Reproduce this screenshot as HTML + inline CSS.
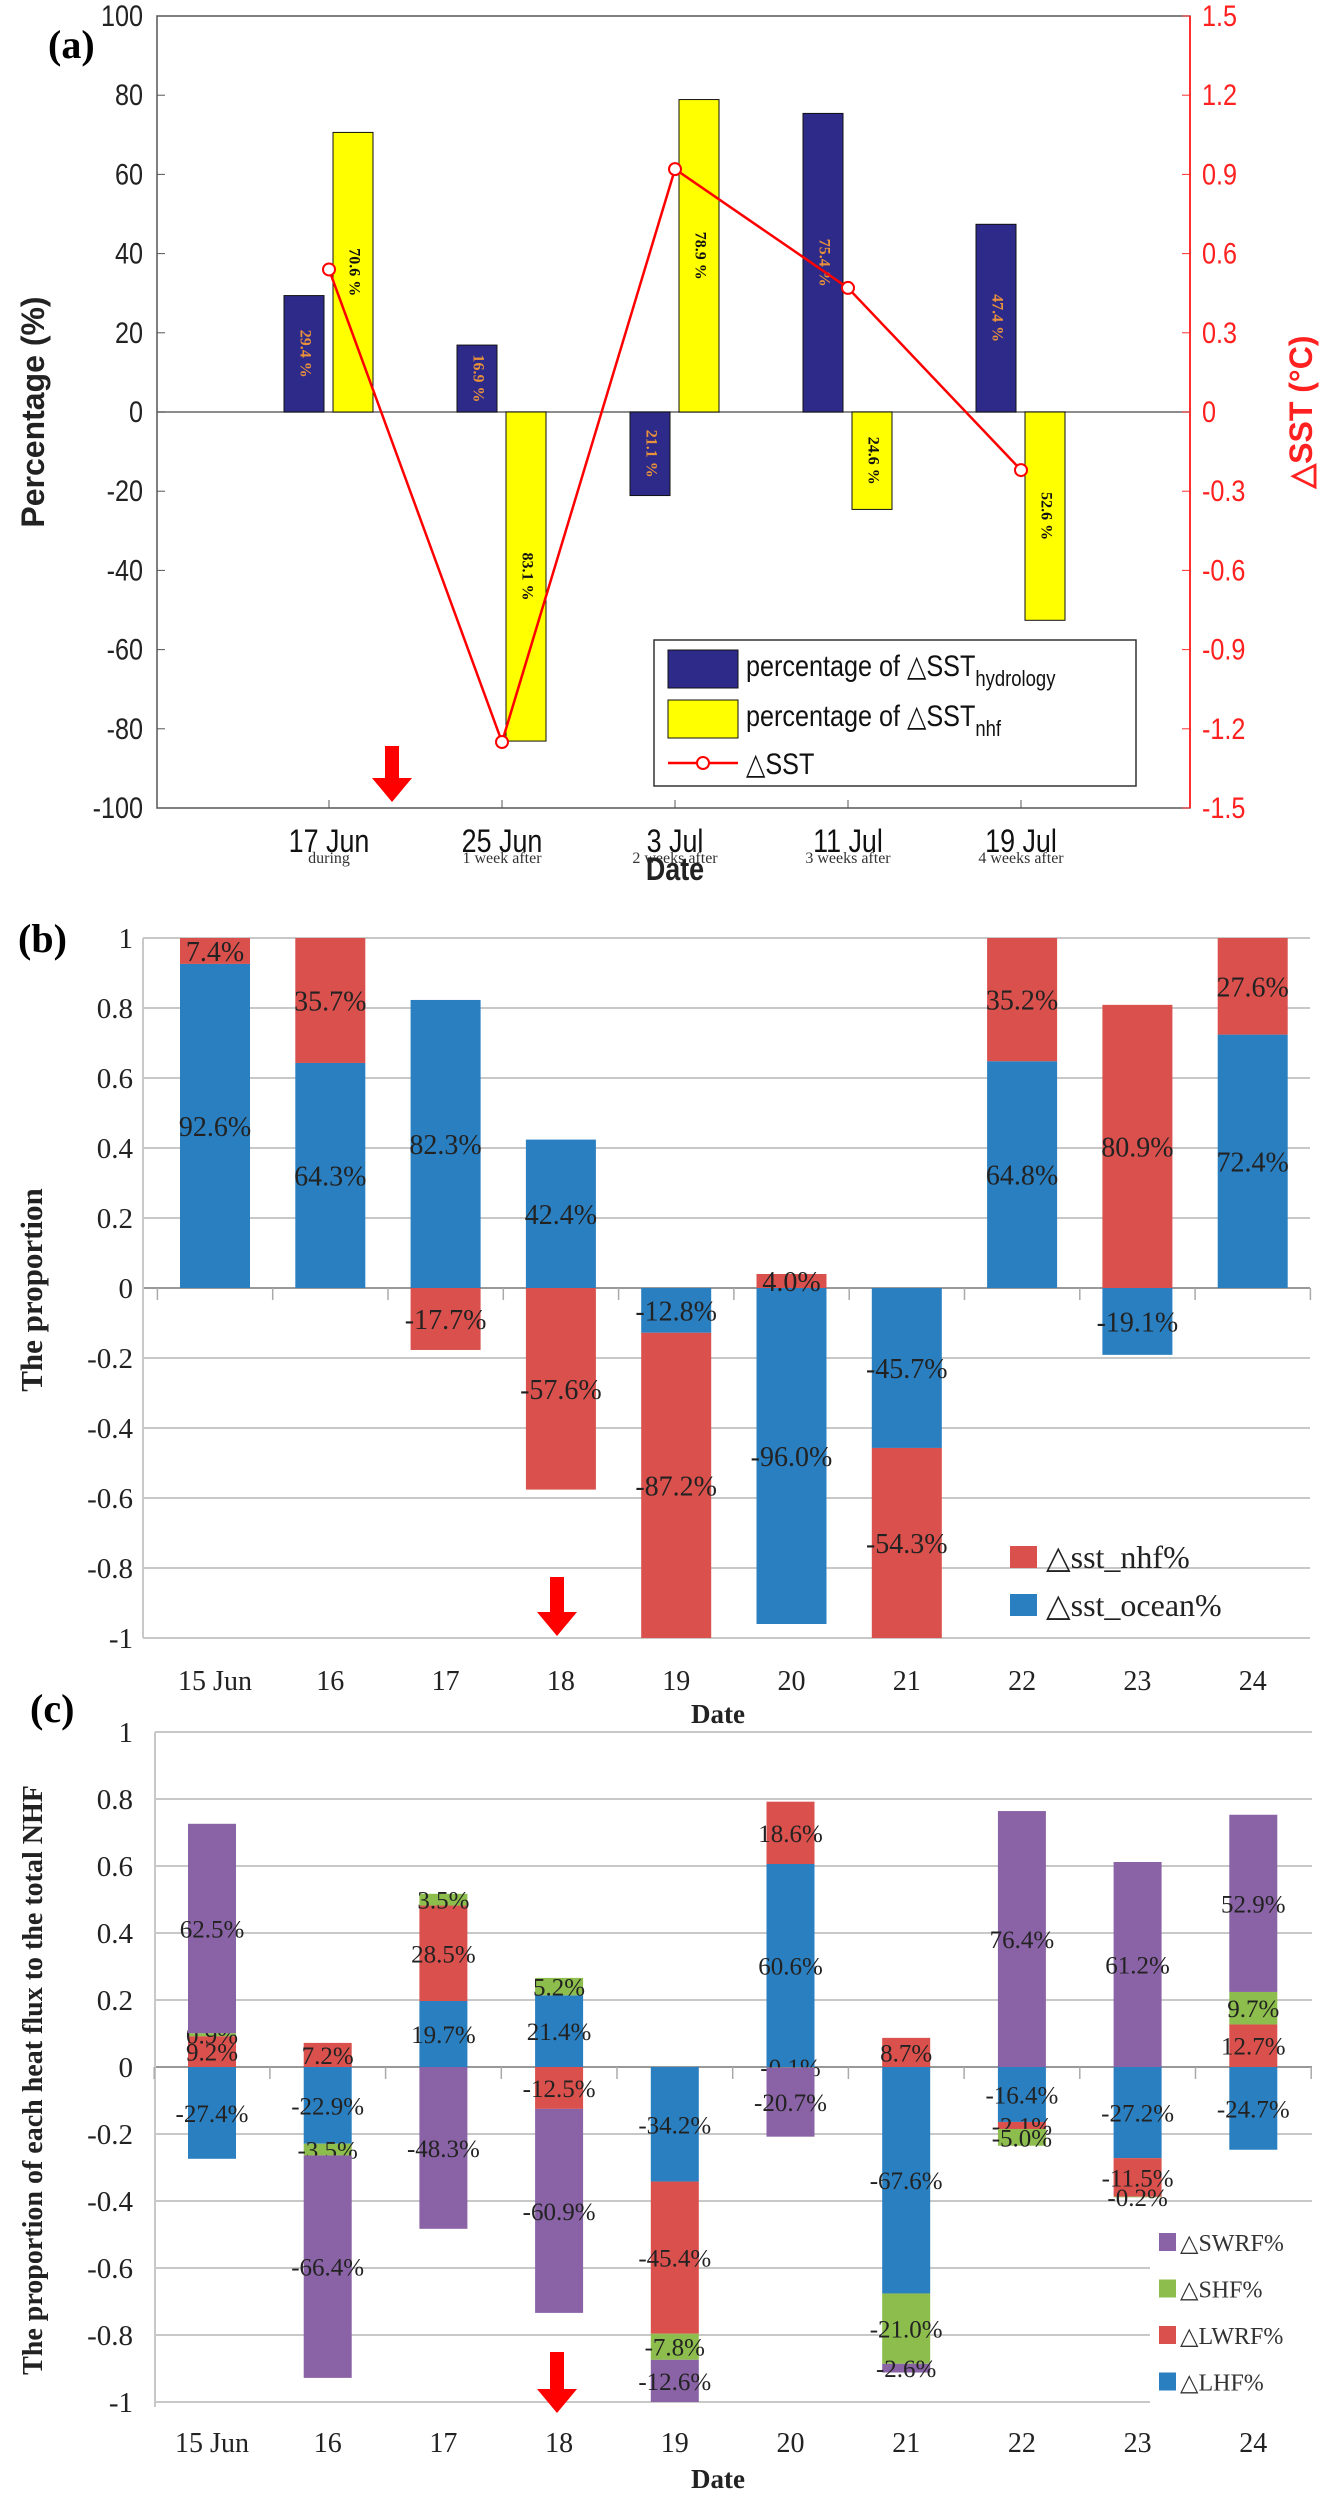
<!DOCTYPE html>
<html><head><meta charset="utf-8"><style>
html,body{margin:0;padding:0;background:#fff}
svg{display:block}
.na{font-family:"Liberation Sans Narrow","Liberation Sans",sans-serif}
.se{font-family:"Liberation Serif",serif}
</style></head><body>
<svg id="fig" width="1331" height="2512" viewBox="0 0 1331 2512" xmlns="http://www.w3.org/2000/svg">
<g id="pa"></g>
<g id="pb"></g>
<g id="pc"></g>
</svg>
<script>
// ---------- Panel (a) data ----------
const catsA = ["17 Jun","25 Jun","3 Jul","11 Jul","19 Jul"];
const subA = ["during","1 week after","2 weeks after","3 weeks after","4 weeks after"];
const hydro = [29.4,16.9,-21.1,75.4,47.4];
const nhf = [70.6,-83.1,78.9,-24.6,-52.6];
const sst = [0.54,-1.25,0.92,0.47,-0.22];
const ticksA = [100,80,60,40,20,0,-20,-40,-60,-80,-100];
const ticksSST = [1.5,1.2,0.9,0.6,0.3,0,-0.3,-0.6,-0.9,-1.2,-1.5];
// ---------- Panel (b) data ----------
const catsB = ["15 Jun","16","17","18","19","20","21","22","23","24"];
const ocean = [0.926,0.643,0.823,0.424,-0.128,-0.960,-0.457,0.648,-0.191,0.724];
const nhfB = [0.074,0.357,-0.177,-0.576,-0.872,0.040,-0.543,0.352,0.809,0.276];
const ticksB = [1,0.8,0.6,0.4,0.2,0,-0.2,-0.4,-0.6,-0.8,-1];
// ---------- Panel (c) data ----------
const lhf = [-0.274,-0.229,0.197,0.214,-0.342,0.606,-0.676,-0.164,-0.272,-0.247];
const lwrf = [0.092,0.072,0.285,-0.125,-0.454,0.186,0.087,-0.021,-0.115,0.127];
const shf = [0.009,-0.035,0.035,0.052,-0.078,-0.001,-0.210,-0.050,-0.002,0.097];
const swrf = [0.625,-0.664,-0.483,-0.609,-0.126,-0.207,-0.026,0.764,0.612,0.529];
const labLhf = ["-27.4%","-22.9%","19.7%","21.4%","-34.2%","60.6%","-67.6%","-16.4%","-27.2%","-24.7%"];
const labLwrf = ["9.2%","7.2%","28.5%","-12.5%","-45.4%","18.6%","8.7%","-2.1%","-11.5%","12.7%"];
const labShf = ["0.9%","-3.5%","3.5%","5.2%","-7.8%","-0.1%","-21.0%","-5.0%","-0.2%","9.7%"];
const labSwrf = ["62.5%","-66.4%","-48.3%","-60.9%","-12.6%","-20.7%","-2.6%","76.4%","61.2%","52.9%"];

const NS="http://www.w3.org/2000/svg";
function mk(parent,tag,attrs,txt){const e=document.createElementNS(NS,tag);for(const k in attrs)e.setAttribute(k,attrs[k]);if(txt!==undefined)e.textContent=txt;
 if(tag==='text'&&attrs['class']==='na'&&!attrs.transform){const x=+attrs.x;e.setAttribute('transform',`translate(${x},0) scale(0.84,1) translate(${-x},0)`);}
 parent.appendChild(e);return e;}
function arrow(g,x,y0,y1,name){const e=mk(g,'path',{d:`M${x-7},${y0} L${x+7},${y0} L${x+7},${y1-24} L${x+20},${y1-24} L${x},${y1} L${x-20},${y1-24} L${x-7},${y1-24} Z`,fill:'#ff0000'});

}

// ================= Panel A =================
(function(){
const g=document.getElementById('pa');
const L=157,R=1190,T=16,B=808;
const yA=v=>412-v*3.96, yS=v=>412-v*264, xA=i=>329+i*173;
mk(g,'rect',{x:L,y:T,width:R-L,height:B-T,fill:'none',stroke:'#555','stroke-width':1.5});
mk(g,'line',{x1:R,y1:T,x2:R,y2:B,stroke:'#ff3030','stroke-width':2});
mk(g,'line',{x1:L,y1:yA(0),x2:R,y2:yA(0),stroke:'#666','stroke-width':1.5});
ticksA.forEach(t=>{mk(g,'line',{x1:L,y1:yA(t),x2:L+8,y2:yA(t),stroke:'#555'});
 const e=mk(g,'text',{x:L-14,y:yA(t)+10,'text-anchor':'end','font-size':30,fill:'#222',class:'na'},String(t));
 });
ticksSST.forEach(t=>{mk(g,'line',{x1:R,y1:yS(t),x2:R-8,y2:yS(t),stroke:'#ff3030'});
 const e=mk(g,'text',{x:R+12,y:yS(t)+10,'font-size':30,fill:'#ff2020',class:'na'},t===0?'0':t.toFixed(1));
 });
catsA.forEach((c,i)=>{const x=xA(i);
 mk(g,'line',{x1:x,y1:B,x2:x,y2:B-8,stroke:'#555'});
 let e=mk(g,'text',{x:x,y:852,'text-anchor':'middle','font-size':32,fill:'#111',class:'na'},c);
 
 e=mk(g,'text',{x:x,y:863,'text-anchor':'middle','font-size':16,fill:'#333',class:'se'},subA[i]);
 
 const hv=hydro[i], nv=nhf[i];
 const b1=mk(g,'rect',{x:x-45,y:Math.min(yA(hv),yA(0)),width:40,height:Math.abs(yA(hv)-yA(0)),fill:'#2e2a8a',stroke:'#111','stroke-width':1});
 
 const b2=mk(g,'rect',{x:x+4,y:Math.min(yA(nv),yA(0)),width:40,height:Math.abs(yA(nv)-yA(0)),fill:'#ffff00',stroke:'#111','stroke-width':1});
 
 const m1=yA(hv/2), m2=yA(nv/2);
 e=mk(g,'text',{x:0,y:0,transform:`translate(${x-25},${m1}) rotate(90)`,'text-anchor':'middle','font-size':16,'font-weight':'bold',fill:'#e8913a',class:'se','dominant-baseline':'middle'},Math.abs(hv).toFixed(1)+' %');
 
 e=mk(g,'text',{x:0,y:0,transform:`translate(${x+24},${m2}) rotate(90)`,'text-anchor':'middle','font-size':16,'font-weight':'bold',fill:'#111',class:'se','dominant-baseline':'middle'},Math.abs(nv).toFixed(1)+' %');
 
});
const pts=sst.map((v,i)=>xA(i)+','+yS(v)).join(' ');
const pl=mk(g,'polyline',{points:pts,fill:'none',stroke:'#ff0000','stroke-width':2.5});

sst.forEach((v,i)=>{const c=mk(g,'circle',{cx:xA(i),cy:yS(v),r:6,fill:'#fff',stroke:'#ff0000','stroke-width':2});
 });
arrow(g,392,746,802,'event-arrow-a');
let e=mk(g,'text',{x:48,y:58,'font-size':40,'font-weight':'bold',class:'se',fill:'#000'},'(a)');

e=mk(g,'text',{x:0,y:0,transform:'translate(44,412) rotate(-90)','text-anchor':'middle','font-size':32,'font-weight':'bold',class:'na',fill:'#222'},'Percentage (%)');

e=mk(g,'text',{x:0,y:0,transform:'translate(1312,412) rotate(-90)','text-anchor':'middle','font-size':32,'font-weight':'bold',class:'na',fill:'#ff2020'},'△SST (°C)');

e=mk(g,'text',{x:675,y:880,'text-anchor':'middle','font-size':32,'font-weight':'bold',class:'na',fill:'#222'},'Date');

const lg=mk(g,'g',{});
mk(lg,'rect',{x:654,y:640,width:482,height:146,fill:'#fff',stroke:'#333','stroke-width':1.5});
mk(lg,'rect',{x:668,y:650,width:70,height:38,fill:'#2e2a8a',stroke:'#111'});
mk(lg,'rect',{x:668,y:700,width:70,height:38,fill:'#ffff00',stroke:'#111'});
mk(lg,'line',{x1:668,y1:763,x2:738,y2:763,stroke:'#ff0000','stroke-width':2.5});
mk(lg,'circle',{cx:703,cy:763,r:6,fill:'#fff',stroke:'#ff0000','stroke-width':2});
let t=mk(lg,'text',{x:746,y:676,'font-size':30,class:'na',fill:'#111'});
t.innerHTML='percentage of △SST<tspan dy="10" font-size="22">hydrology</tspan>';
t=mk(lg,'text',{x:746,y:726,'font-size':30,class:'na',fill:'#111'});
t.innerHTML='percentage of △SST<tspan dy="10" font-size="22">nhf</tspan>';
mk(lg,'text',{x:746,y:774,'font-size':30,class:'na',fill:'#111'},'△SST');
})();

// ================= Panel B =================
(function(){
const g=document.getElementById('pb');
const L=143,R=1310;
const yB=v=>1288-v*350, xB=i=>215+i*115.3;
ticksB.forEach(t=>{const gl=mk(g,'line',{x1:L,y1:yB(t),x2:R,y2:yB(t),stroke:t===0?'#999':'#c8c8c8','stroke-width':2});
 
 const e=mk(g,'text',{x:L-10,y:yB(t)+10,'text-anchor':'end','font-size':29,class:'se',fill:'#222'},String(t));
 });
mk(g,'line',{x1:L,y1:yB(1),x2:L,y2:yB(-1),stroke:'#c8c8c8','stroke-width':2});
for(let i=0;i<=catsB.length;i++){const x=xB(i)-57.6;mk(g,'line',{x1:x,y1:yB(0),x2:x,y2:yB(0)+12,stroke:'#aaa','stroke-width':1.5});}
catsB.forEach((c,i)=>{const x=xB(i);
 let pos=0,neg=0;
 [[ocean[i],'#2a7fc0','bar-ocean'],[nhfB[i],'#d9504c','bar-nhf']].forEach(([v,col,nm])=>{
  let y0,y1; if(v>=0){y0=pos;y1=pos+v;pos=y1;}else{y0=neg;y1=neg+v;neg=y1;}
  const r=mk(g,'rect',{x:x-35,y:Math.min(yB(y0),yB(y1)),width:70,height:Math.abs(yB(y1)-yB(y0)),fill:col});
  
  const e=mk(g,'text',{x:x,y:yB((y0+y1)/2)+10,'text-anchor':'middle','font-size':28,class:'se',fill:'#222'},(v*100).toFixed(1)+'%');
  
 });
 const e=mk(g,'text',{x:x,y:1690,'text-anchor':'middle','font-size':28,class:'se',fill:'#222'},c);
 
});
arrow(g,557,1577,1636,'event-arrow-b');
let e=mk(g,'text',{x:18,y:952,'font-size':40,'font-weight':'bold',class:'se',fill:'#000'},'(b)');

e=mk(g,'text',{x:0,y:0,transform:'translate(42,1290) rotate(-90)','text-anchor':'middle','font-size':31,'font-weight':'bold',class:'se',fill:'#222'},'The proportion');

e=mk(g,'text',{x:718,y:1723,'text-anchor':'middle','font-size':27,'font-weight':'bold',class:'se',fill:'#222'},'Date');

const lg=mk(g,'g',{});
mk(lg,'rect',{x:1010,y:1546,width:27,height:22,fill:'#d9504c'});
mk(lg,'rect',{x:1010,y:1594,width:27,height:22,fill:'#2a7fc0'});
mk(lg,'text',{x:1046,y:1568,'font-size':32,class:'se',fill:'#222'},'△sst_nhf%');
mk(lg,'text',{x:1046,y:1616,'font-size':32,class:'se',fill:'#222'},'△sst_ocean%');
})();

// ================= Panel C =================
(function(){
const g=document.getElementById('pc');
const L=155,R=1312;
const yC=v=>2067-v*335, xC=i=>212+i*115.7;
ticksB.forEach(t=>{const gl=mk(g,'line',{x1:L,y1:yC(t),x2:R,y2:yC(t),stroke:t===0?'#999':'#c8c8c8','stroke-width':2});
 
 const e=mk(g,'text',{x:L-22,y:yC(t)+10,'text-anchor':'end','font-size':29,class:'se',fill:'#222'},String(t));
 });
mk(g,'line',{x1:L,y1:yC(1),x2:L,y2:yC(-1)+5,stroke:'#c8c8c8','stroke-width':2});
for(let i=0;i<=catsB.length;i++){const x=xC(i)-57.8;mk(g,'line',{x1:x,y1:yC(0),x2:x,y2:yC(0)+12,stroke:'#aaa','stroke-width':1.5});}
const series=[[lhf,labLhf,'#2a7fc0','bar-lhf'],[lwrf,labLwrf,'#d9504c','bar-lwrf'],[shf,labShf,'#8dbd4c','bar-shf'],[swrf,labSwrf,'#8a63a6','bar-swrf']];
catsB.forEach((c,i)=>{const x=xC(i);let pos=0,neg=0;
 series.forEach(([arr,lab,col,nm])=>{const v=arr[i];let y0,y1;
  if(v>=0){y0=pos;y1=pos+v;pos=y1;}else{y0=neg;y1=neg+v;neg=y1;}
  const r=mk(g,'rect',{x:x-24,y:Math.min(yC(y0),yC(y1)),width:48,height:Math.abs(yC(y1)-yC(y0)),fill:col});
  
  const e=mk(g,'text',{x:x,y:yC((y0+y1)/2)+9,'text-anchor':'middle','font-size':25,class:'se',fill:'#222'},lab[i]);
  
 });
 const e=mk(g,'text',{x:x,y:2452,'text-anchor':'middle','font-size':28,class:'se',fill:'#222'},c);
 
});
arrow(g,557,2352,2413,'event-arrow-c');
let e=mk(g,'text',{x:30,y:1722,'font-size':40,'font-weight':'bold',class:'se',fill:'#000'},'(c)');

e=mk(g,'text',{x:0,y:0,transform:'translate(42,2080) rotate(-90)','text-anchor':'middle','font-size':28,'font-weight':'bold',class:'se',fill:'#222'},'The proportion of each heat flux to the total NHF');

e=mk(g,'text',{x:718,y:2488,'text-anchor':'middle','font-size':27,'font-weight':'bold',class:'se',fill:'#222'},'Date');

const lg=mk(g,'g',{});
const items=[['△SWRF%','#8a63a6'],['△SHF%','#8dbd4c'],['△LWRF%','#d9504c'],['△LHF%','#2a7fc0']];
mk(lg,'rect',{x:1150,y:2215,width:162,height:190,fill:'#fff'});
items.forEach(([t,col],k)=>{const y=2242+k*46.5;
 mk(lg,'rect',{x:1159,y:y-9,width:17,height:18,fill:col});
 mk(lg,'text',{x:1180,y:y+9,'font-size':24,class:'se',fill:'#333'},t);});
})();
</script>
</body></html>
